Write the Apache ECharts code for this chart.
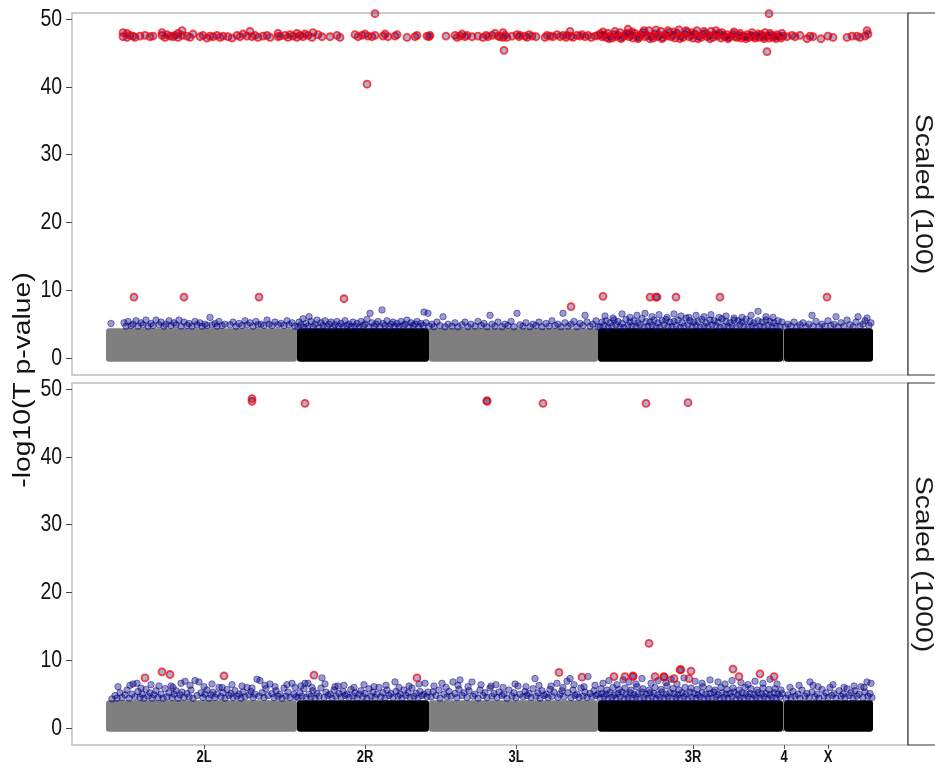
<!DOCTYPE html>
<html>
<head>
<meta charset="utf-8">
<script src="https://cdn.jsdelivr.net/npm/echarts@6/dist/echarts.min.js"></script>
<style>html,body{margin:0;padding:0;background:#fff}#c{width:935px;height:772px}</style>
</head>
<body>
<div id="c"></div>
<script>
// ---------------- DATA ----------------
const chromNames = ['2L', '2R', '3L', '3R', '4', 'X'];
const chromStart = [0, 191, 323, 492, 677, 678];
const chromEnd = [191, 323, 492, 677, 678, 767];
const tickPos = [98, 259, 410, 587, 678, 722];
const yTicks = [0, 10, 20, 30, 40, 50];
const panelNames = ['Scaled (100)', 'Scaled (1000)'];
// extent of the overplotted non-significant SNP cloud (-log10 p)
const nullTop = [4.4, 4.1];
const nullBottom = [-0.55, -0.55];

// Scaled (100): significant SNPs
const red100 = [
[17,47.4],[17,48.0],[21,47.9],[21,47.3],[24,47.6],[27,47.5],[29,47.3],[34,47.5],[39,47.6],[44,47.4],[47,47.5],[56,47.6],[56,48.0],[59,47.3],[61,47.7],[64,47.5],[67,47.4],[69,47.6],[72,47.9],[72,47.3],[76,48.3],[76,47.6],[81,47.5],[84,47.3],[87,47.8],[94,47.4],[97,47.6],[101,47.2],[104,47.5],[107,47.4],[111,47.6],[114,47.3],[117,47.5],[122,47.4],[126,47.2],[131,47.6],[134,47.4],[137,47.8],[141,47.5],[144,48.2],[146,47.4],[149,47.6],[152,47.3],[157,47.5],[161,47.6],[164,47.3],[172,47.9],[172,47.4],[174,47.5],[179,47.6],[182,47.3],[184,47.7],[187,47.5],[191,47.9],[191,47.3],[194,47.6],[197,47.4],[199,47.8],[202,47.6],[206,47.3],[207,48.0],[212,47.7],[216,47.4],[224,47.4],[231,47.6],[234,47.3],[249,47.7],[252,47.4],[256,47.6],[259,47.8],[262,47.5],[266,47.4],[269,47.6],[277,47.5],[279,47.8],[282,47.4],[289,47.5],[291,47.7],[301,47.3],[309,47.4],[311,47.6],[321,47.5],[323,47.4],[324,47.6],
[340,47.5],[349,47.6],[351,47.3],[354,47.5],[356,47.8],[359,47.4],[361,47.6],[366,47.4],[372,47.5],[377,47.3],[380,47.6],[382,47.4],[386,47.6],[389,47.9],[392,47.5],[394,47.4],[397,48.0],[397,47.3],[399,47.6],[401,47.3],[406,47.5],[411,47.7],[413,47.4],[414,47.6],[419,47.5],[421,47.3],[423,47.7],[426,47.5],[430,47.4],[439,47.3],[441,47.6],[444,47.5],[447,47.4],[451,47.7],[454,47.4],[457,47.6],[460,47.3],[461,47.6],[464,48.2],[465,47.5],[467,47.3],[471,47.6],[474,47.5],[476,47.7],[479,47.4],[482,47.6],[485,47.3],[489,47.5],[492,47.6],
[494,47.8],[496,47.4],[498,47.6],[500,47.3],[502,47.9],[504,47.5],[506,47.2],[508,47.7],[510,47.4],[512,47.6],[514,48.0],[516,47.3],[518,47.5],[520,47.8],[522,48.5],[523,47.4],[525,47.6],[527,47.2],[529,47.9],[531,47.5],[533,47.3],[535,47.7],[537,48.0],[539,47.4],[541,47.6],[543,48.3],[545,47.5],[547,47.2],[549,47.8],[551,47.4],[553,47.6],[555,48.2],[557,47.3],[559,47.7],[561,47.5],[563,48.0],[565,47.4],[567,47.6],[569,47.2],[571,47.9],[573,48.4],[575,47.5],[577,47.3],[579,47.7],[581,48.1],[583,47.4],[585,47.6],[587,47.2],[589,47.8],[591,48.3],[593,47.5],[595,47.3],[597,47.7],[599,47.9],[601,47.4],[603,47.6],[605,48.2],[607,47.3],[609,47.7],[611,47.5],[613,47.9],[615,47.2],[617,47.6],[619,47.4],[621,47.7],[623,47.3],[625,47.5],[627,47.8],[629,47.4],[631,47.3],[633,47.6],[635,47.2],[637,47.5],[639,47.4],[641,47.7],[643,47.3],[645,47.6],[647,47.4],[649,47.2],[651,47.5],[653,47.3],[655,47.7],[657,47.4],[659,48.0],[661,47.5],[663,47.2],[665,47.6],[667,47.3],[669,47.5],[671,47.7],[673,47.4],[675,47.2],[677,47.5],
[497,48.1],[503,47.1],[509,48.2],[515,47.1],[521,47.9],[526,48.1],[532,47.1],[538,48.3],[544,47.1],[550,48.4],[556,47.1],[562,48.3],[568,48.1],[574,47.1],[580,48.3],[586,48.0],[592,47.1],[598,48.2],[604,47.1],[610,48.3],[616,48.0],[622,47.1],[628,48.1],[634,47.9],[640,47.1],[646,48.0],[652,47.8],[658,47.1],[664,47.9],[670,47.1],[676,47.9],
[681,47.4],[686,47.6],[689,47.4],[694,47.6],[701,47.1],[704,47.5],[707,47.4],[715,47.1],[722,47.5],[727,47.3],[741,47.3],[746,47.5],[751,47.5],[754,47.3],[759,47.5],[761,48.3],[762,47.8],
[269,50.8],[663,50.8],[261,40.4],[398,45.4],[661,45.2],
[28,9.0],[78,9.0],[153,9.0],[238,8.75],[465,7.6],[497,9.1],[544,9.0],[550,9.0],[551,9.0],[570,9.0],[614,9.0],[721,9.0]
];

const blue100 = [
[5,5.1],[18,5.2],[20,4.7],[22,5.4],[25,4.8],[27,5.0],[30,5.5],[32,4.7],[35,5.2],[37,4.9],[40,5.6],[42,4.7],[45,5.1],[47,4.8],[50,5.6],[53,4.9],[55,5.3],[58,4.7],[60,5.0],[63,5.5],[65,4.8],[68,5.2],[70,4.9],[73,5.6],[75,4.7],[78,5.3],[81,4.8],[83,5.1],[86,4.7],[89,5.4],[91,4.9],[94,5.2],[96,4.7],[99,5.0],[101,4.8],[104,6.0],[106,4.9],[109,5.1],[111,4.7],[113,5.4],[116,4.8],[119,5.0],[124,4.9],[127,5.3],[130,4.7],[133,5.1],[136,4.8],[139,5.5],[141,4.9],[144,5.2],[147,4.7],[150,5.4],[152,4.9],[155,5.0],[158,4.8],[161,5.6],[163,5.0],[166,4.8],[169,5.3],[172,4.9],[175,5.1],[178,4.8],[181,5.5],[183,4.9],[186,5.2],[189,4.7],
[192,4.6],[193,5.3],[195,4.9],[197,5.8],[198,4.5],[200,5.1],[202,4.7],[203,6.1],[205,5.4],[207,4.6],[209,5.0],[211,5.6],[213,4.5],[215,5.2],[217,4.8],[219,5.5],[221,4.6],[223,5.0],[225,5.3],[227,4.5],[229,4.9],[231,5.4],[233,4.7],[235,5.1],[237,4.6],[239,5.5],[241,4.8],[243,5.0],[245,4.6],[247,5.3],[249,4.7],[251,5.1],[253,4.5],[255,5.4],[257,4.8],[259,5.0],[261,5.7],[263,4.6],[264,6.6],[266,5.2],[268,4.7],[270,5.0],[272,5.4],[274,4.6],[276,7.1],[277,5.1],[279,4.8],[281,5.5],[283,4.6],[285,5.0],[287,5.3],[289,4.7],[291,5.1],[293,4.6],[295,5.4],[297,4.8],[299,5.0],[301,5.6],[303,4.6],[305,5.2],[307,4.8],[309,5.0],[311,5.4],[313,4.6],[315,5.1],[317,4.8],[318,6.8],[320,5.2],[322,6.6],[323,4.7],
[326,5.0],[328,4.6],[331,5.3],[334,4.8],[337,6.1],[339,4.6],[342,5.0],[346,4.7],[349,5.2],[352,4.6],[356,4.9],[359,5.3],[362,4.6],[365,5.0],[369,4.7],[372,5.4],[375,4.8],[378,5.1],[381,4.6],[384,6.3],[386,5.0],[389,4.7],[392,5.3],[396,4.6],[399,5.0],[402,4.8],[405,5.4],[408,4.6],[411,6.6],[414,4.9],[417,4.7],[420,5.2],[424,4.6],[427,5.0],[430,4.8],[433,5.3],[436,4.6],[440,5.1],[443,4.7],[446,5.5],[449,4.8],[452,5.0],[455,4.6],[457,6.6],[459,5.2],[462,4.7],[465,5.0],[468,5.4],[471,4.6],[474,5.1],[477,4.8],[479,6.3],[481,5.3],[484,4.7],[487,5.0],[490,5.5],[492,4.6],
[494,4.6],[498,4.8],[502,4.5],[506,4.7],[510,4.9],[514,4.6],[518,4.5],[522,4.8],[526,4.7],[530,4.6],[534,4.9],[538,4.5],[542,4.7],[546,4.8],[550,4.6],[554,4.5],[558,4.9],[562,4.7],[566,4.6],[570,4.8],[574,4.5],[578,4.7],[582,4.9],[586,4.6],[590,4.8],[594,4.5],[598,4.7],[602,4.6],[606,4.9],[610,4.8],[614,4.5],[618,4.7],[622,4.6],[626,4.8],[630,4.5],[634,4.9],[638,4.7],[642,4.6],[646,4.8],[650,4.5],[654,4.7],[658,4.6],[662,4.8],[666,4.5],[670,4.7],[674,4.6],
[496,5.3],[500,5.5],[504,5.2],[508,5.6],[512,5.4],[516,5.1],[520,5.7],[524,5.3],[528,5.5],[532,5.2],[536,5.8],[540,5.4],[544,5.3],[548,5.6],[552,5.2],[556,5.5],[560,5.7],[564,5.3],[568,5.4],[572,5.6],[576,5.2],[580,5.9],[584,5.5],[588,5.3],[592,5.4],[596,5.7],[600,5.2],[604,5.6],[608,5.5],[612,5.3],[616,5.8],[620,5.4],[624,5.2],[628,5.6],[632,5.5],[636,5.3],[640,5.7],[644,5.4],[648,5.2],[652,5.5],[656,5.3],[660,5.6],[664,5.4],[668,5.2],[672,5.5],[676,5.3],
[499,6.2],[507,5.9],[516,6.5],[524,6.0],[531,6.3],[539,6.6],[546,6.1],[553,6.4],[561,6.0],[568,6.5],[575,6.2],[583,6.0],[590,6.3],[598,6.1],[605,6.4],[613,6.0],[620,6.2],[628,5.9],[636,6.0],[645,6.3],[652,6.9],[660,6.1],[667,6.0],
[679,4.6],[682,5.0],[685,4.7],[688,5.3],[691,4.6],[694,4.9],[697,5.2],[700,4.6],[703,5.0],[706,6.3],[707,4.7],[710,5.4],[713,4.6],[716,5.0],[719,4.7],[722,5.5],[725,4.8],[728,5.0],[730,6.1],[732,4.6],[735,5.2],[738,4.7],[741,5.6],[744,4.9],[747,4.6],[750,5.3],[752,6.1],[754,4.7],[757,5.0],[759,5.5],[761,5.9],[763,4.8],[765,5.2]
];

// Scaled (1000): significant SNPs
const red1000 = [
[146,48.2],[146,48.6],[199,47.9],[381,48.2],[381,48.3],[437,47.9],[540,47.9],[582,48.0],
[39,7.4],[56,8.3],[64,7.9],[118,7.7],[208,7.8],[311,7.4],[453,8.2],[476,7.5],[508,7.6],[519,7.6],[527,7.6],[527,7.7],[543,12.5],[549,7.6],[558,7.6],[558,7.5],[568,7.3],[574,8.6],[575,8.6],[583,7.3],[585,8.4],[627,8.7],[633,7.6],[654,8.0],[668,7.6]
];

const blue1000 = [
[6,4.3],[9,4.8],[11,4.4],[14,5.2],[16,4.5],[19,4.9],[21,5.6],[23,4.4],[26,5.0],[27,6.5],[29,4.6],[31,6.6],[32,5.4],[34,4.5],[36,5.0],[38,4.4],[40,5.7],[42,4.7],[44,5.2],[46,4.4],[48,4.9],[50,5.5],[52,4.5],[55,5.0],[57,4.4],[59,5.8],[61,4.6],[63,5.2],[65,6.2],[66,4.5],[68,5.0],[70,5.5],[72,4.4],[74,4.9],[76,5.3],[78,4.5],[79,6.9],[81,5.1],[83,4.6],[85,5.6],[87,4.4],[89,7.0],[91,4.8],[93,6.8],[95,5.2],[97,4.5],[99,5.0],[101,5.6],[103,4.4],[105,4.9],[107,5.3],[109,4.5],[111,5.0],[113,6.0],[115,4.6],[117,5.2],[119,4.4],[121,5.7],[123,4.8],[125,5.1],[127,4.5],[129,5.5],[131,4.7],[133,5.0],[135,4.4],[137,5.3],[139,4.6],[141,6.0],[143,4.9],[145,5.4],[147,4.5],[149,5.0],[151,7.2],[153,4.7],[154,7.0],[156,5.2],[158,4.5],[160,5.8],[162,4.8],[164,6.5],[166,5.1],[168,4.5],[170,5.5],[172,4.7],[174,5.0],[176,4.4],[178,5.9],[180,4.7],[182,5.3],[184,4.5],[186,6.6],[188,5.0],[190,4.6],
[12,6.1],[24,6.3],[35,5.9],[45,6.4],[53,6.2],[67,6.0],[75,6.6],[84,6.3],[98,6.1],[106,6.5],[116,6.0],[126,6.4],[136,6.2],[146,5.9],[159,6.3],[169,6.1],[181,6.4],[189,6.0],
[192,4.5],[194,5.2],[196,4.7],[198,5.8],[199,6.6],[200,4.5],[202,6.6],[203,5.0],[205,4.6],[207,5.5],[209,4.4],[211,5.1],[213,4.7],[215,5.9],[216,7.4],[218,4.5],[220,5.3],[222,4.8],[224,5.0],[226,4.4],[228,5.6],[230,4.7],[232,6.2],[233,5.1],[235,4.5],[237,5.4],[239,4.8],[241,5.0],[243,4.5],[245,5.7],[247,4.7],[249,5.2],[251,4.4],[253,5.0],[255,5.5],[257,4.6],[259,5.1],[261,4.4],[263,5.8],[265,4.7],[267,5.3],[269,4.5],[271,5.0],[273,6.0],[275,4.6],[277,5.2],[279,4.4],[281,5.6],[283,4.8],[285,5.1],[287,4.5],[289,6.8],[290,5.4],[292,4.7],[294,5.0],[296,4.4],[298,5.6],[300,4.8],[302,5.2],[304,4.5],[306,5.9],[308,4.7],[310,5.1],[312,4.4],[314,5.4],[316,4.8],[318,5.0],[319,6.6],[321,4.6],[322,5.3],
[195,6.2],[206,6.0],[219,6.5],[229,6.1],[238,6.3],[248,6.0],[258,6.4],[268,6.1],[280,6.3],[293,6.0],[303,6.2],[313,6.5],
[325,4.6],[327,5.3],[330,4.8],[333,5.6],[334,4.4],[336,6.6],[338,5.0],[341,4.6],[343,5.4],[345,4.7],[347,6.8],[349,5.1],[351,4.5],[353,5.7],[354,7.1],[356,4.8],[358,5.2],[361,4.5],[363,5.5],[366,6.8],[367,4.7],[369,5.0],[372,4.4],[374,5.6],[377,4.8],[379,5.2],[381,4.5],[384,5.9],[386,4.7],[388,5.1],[390,6.4],[391,4.5],[393,5.3],[396,4.8],[398,5.0],[401,4.4],[403,5.6],[406,4.7],[408,5.2],[410,4.5],[412,6.2],[414,5.0],[417,4.6],[419,5.4],[421,4.8],[423,5.1],[425,4.5],[427,5.8],[429,7.3],[430,4.7],[432,5.2],[434,4.4],[436,5.5],[438,4.8],[440,5.0],[442,4.5],[444,5.7],[446,4.7],[448,5.3],[451,6.6],[452,4.5],[454,5.0],[456,5.5],[458,4.6],[461,6.9],[462,5.2],[464,7.3],[465,4.5],[467,5.6],[469,4.8],[471,5.0],[473,4.5],[475,5.9],[477,4.7],[479,5.3],[481,4.5],[482,7.6],[484,5.1],[486,4.6],[488,5.5],[490,4.8],[492,5.0],
[328,6.2],[340,6.0],[352,6.3],[362,6.1],[375,6.4],[385,6.2],[397,6.0],[409,6.5],[420,6.1],[433,6.3],[445,6.2],[457,6.0],[468,6.4],[478,6.1],[489,6.3],
[494,4.4],[498,4.6],[502,4.3],[506,4.5],[510,4.4],[514,4.6],[518,4.3],[522,4.5],[526,4.4],[530,4.6],[534,4.3],[538,4.5],[542,4.4],[546,4.6],[550,4.3],[554,4.5],[558,4.4],[562,4.6],[566,4.3],[570,4.5],[574,4.4],[578,4.6],[582,4.3],[586,4.5],[590,4.4],[594,4.6],[598,4.3],[602,4.5],[606,4.4],[610,4.6],[614,4.3],[618,4.5],[622,4.4],[626,4.6],[630,4.3],[634,4.5],[638,4.4],[642,4.6],[646,4.3],[650,4.5],[654,4.4],[658,4.6],[662,4.3],[666,4.5],[670,4.4],[674,4.6],
[496,5.1],[500,5.0],[504,5.2],[508,4.9],[512,5.1],[516,5.3],[520,5.0],[524,5.2],[528,4.9],[532,5.1],[536,5.3],[540,5.0],[544,5.2],[548,5.1],[552,4.9],[556,5.3],[560,5.0],[564,5.2],[568,5.1],[572,4.9],[576,5.2],[580,5.0],[584,5.3],[588,5.1],[592,4.9],[596,5.2],[600,5.0],[604,5.1],[608,5.3],[612,4.9],[616,5.2],[620,5.0],[624,5.1],[628,5.3],[632,4.9],[636,5.2],[640,5.0],[644,5.1],[648,4.9],[652,5.2],[656,5.0],[660,5.1],[664,4.9],[668,5.2],[672,5.0],[676,5.1],
[495,5.8],[501,5.6],[507,6.0],[513,5.7],[519,5.9],[525,5.6],[531,6.1],[537,5.8],[543,5.6],[549,6.0],[555,5.7],[561,6.2],[567,5.8],[573,5.6],[579,6.0],[585,5.9],[591,5.7],[597,6.1],[603,5.8],[609,5.6],[615,6.0],[621,5.7],[627,5.9],[633,5.6],[639,6.0],[645,5.8],[651,5.6],[657,5.9],[663,5.7],[669,5.8],[675,5.6],
[497,6.6],[503,7.0],[511,6.4],[517,7.1],[523,6.8],[530,6.5],[536,7.3],[545,6.6],[552,7.0],[560,6.7],[565,7.2],[571,6.5],[578,7.4],[589,6.9],[596,6.6],[604,7.1],[612,6.8],[619,6.5],[626,7.0],[635,6.7],[642,6.4],[649,6.9],[657,6.6],[664,7.2],[671,6.5],
[680,4.4],[682,4.9],[685,4.5],[687,5.4],[689,4.7],[692,5.0],[694,4.4],[696,5.6],[699,4.7],[701,5.1],[703,4.5],[704,6.8],[706,5.3],[707,6.3],[709,4.6],[711,5.0],[713,4.4],[716,5.7],[718,4.7],[720,5.2],[722,4.5],[724,6.0],[726,4.8],[728,5.1],[730,4.4],[733,5.5],[735,4.7],[737,5.0],[739,4.5],[741,5.8],[743,4.8],[745,5.2],[747,4.4],[749,5.5],[751,4.7],[753,5.0],[755,6.1],[757,4.5],[759,5.3],[761,6.8],[762,4.7],[764,5.1],[766,4.5],
[684,6.0],[693,6.3],[712,6.1],[727,6.4],[738,6.0],[748,6.2],[758,6.0],[765,6.6]
];

// ---------------- CHART ----------------
const chart = echarts.init(document.getElementById('c'), null, {renderer: 'canvas'});
const sans = "'Liberation Sans', Arial, sans-serif";
const grids = [
  {left: 72, top: 13, width: 836, height: 362},
  {left: 72, top: 383, width: 836, height: 362}
];

function blockData(p) {
  return chromNames.map((n, i) => [chromStart[i], chromEnd[i], nullBottom[p], nullTop[p], i % 2]);
}
function renderBlock(params, api) {
  const a = api.coord([api.value(0), api.value(3)]);
  const b = api.coord([api.value(1), api.value(2)]);
  return {
    type: 'rect',
    shape: {x: a[0], y: a[1], width: Math.max(1, b[0] - a[0]), height: b[1] - a[1], r: 3},
    style: {fill: api.value(4) ? '#000000' : '#7f7f7f'}
  };
}

const series = [];
[blue100, blue1000].forEach((blue, p) => {
  const red = p === 0 ? red100 : red1000;
  series.push({
    type: 'custom', xAxisIndex: p, yAxisIndex: p, renderItem: renderBlock,
    data: blockData(p), silent: true, z: 1, clip: true
  });
  series.push({
    type: 'scatter', xAxisIndex: p, yAxisIndex: p, data: blue, symbolSize: 6.5, z: 2, clip: true,
    itemStyle: {color: 'rgba(0,0,128,0.5)', borderColor: 'rgba(0,0,128,0.7)', borderWidth: 0.8},
    silent: true
  });
  series.push({
    type: 'scatter', xAxisIndex: p, yAxisIndex: p, data: red, symbolSize: 7, z: 3, clip: true,
    itemStyle: {color: 'rgba(0,0,128,0.4)', borderColor: 'rgba(255,0,0,0.9)', borderWidth: 1.8},
    silent: true
  });
});

const baseGraphic = [
  {type: 'text', x: 24, y: 380, rotation: Math.PI / 2, scaleX: 1.23,
   style: {text: '-log10(T p-value)', fontSize: 23, fontFamily: sans, fill: '#111', align: 'center', verticalAlign: 'middle'}},
  {type: 'rect', shape: {x: 908, y: 13, width: 40, height: 362}, style: {fill: '#ffffff', stroke: '#333', lineWidth: 1.2}},
  {type: 'rect', shape: {x: 908, y: 383, width: 40, height: 362}, style: {fill: '#ffffff', stroke: '#333', lineWidth: 1.2}},
  {type: 'text', x: 922, y: 194, rotation: -Math.PI / 2, scaleX: 1.23,
   style: {text: panelNames[0], fontSize: 23, fontFamily: sans, fill: '#1a1a1a', align: 'center', verticalAlign: 'middle'}},
  {type: 'text', x: 922, y: 564, rotation: -Math.PI / 2, scaleX: 1.23,
   style: {text: panelNames[1], fontSize: 23, fontFamily: sans, fill: '#1a1a1a', align: 'center', verticalAlign: 'middle'}}
];

const option = {
  animation: false,
  backgroundColor: '#ffffff',
  grid: grids.map(g => Object.assign({show: true, borderColor: '#bdbdbd', borderWidth: 1.5, backgroundColor: '#fff', containLabel: false}, g)),
  xAxis: [0, 1].map(p => ({
    type: 'value', gridIndex: p, min: -34, max: 802,
    splitLine: {show: false},
    axisLine: {show: false, onZero: false},
    axisTick: p === 1 ? {show: true, customValues: tickPos, length: 4, lineStyle: {color: '#555', width: 1}} : {show: false},
    axisLabel: {show: false}
  })),
  yAxis: [0, 1].map(p => ({
    type: 'value', gridIndex: p, min: -2.5, max: 50.9,
    splitLine: {show: false},
    axisLine: {show: false, onZero: false},
    axisTick: {show: true, customValues: yTicks, length: 6, lineStyle: {color: '#444', width: 1}},
    axisLabel: {show: false}
  })),
  series: series,
  graphic: baseGraphic
};
chart.setOption(option);

// condensed tick labels placed through the axes' own scales
const labelGraphic = [];
[0, 1].forEach(p => {
  yTicks.forEach(v => {
    const py = chart.convertToPixel({yAxisIndex: p}, v);
    labelGraphic.push({type: 'text', x: 62, y: py, scaleX: 0.81,
      style: {text: String(v), fontSize: 24, fontFamily: sans, fill: '#111', align: 'right', verticalAlign: 'middle'}});
  });
});
tickPos.forEach((v, i) => {
  const px = chart.convertToPixel({xAxisIndex: 1}, v);
  labelGraphic.push({type: 'text', x: px, y: 750, scaleX: 0.81,
    style: {text: chromNames[i], fontSize: 16, fontWeight: 'bold', fontFamily: sans, fill: '#111', align: 'center', verticalAlign: 'top'}});
});
chart.setOption({graphic: baseGraphic.concat(labelGraphic)});
</script>
</body>
</html>
